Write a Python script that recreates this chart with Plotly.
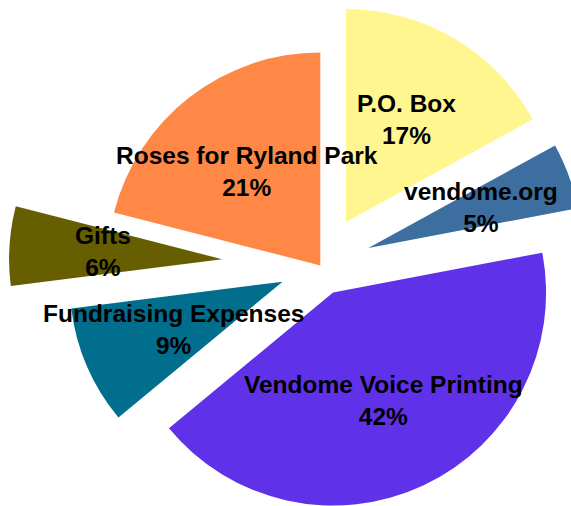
import numpy as np
import plotly.graph_objects as go

# ---- data ----
labels = ["P.O. Box", "vendome.org", "Vendome Voice Printing",
          "Fundraising Expenses", "Gifts", "Roses for Ryland Park"]
values = [17, 5, 42, 9, 6, 21]
colors = ["#FFF68F", "#3C6EA0", "#5F32EA", "#006E8C", "#665E00", "#FF8847"]
pulls = [0.237, 0.24, 0.141, 0.193, 0.462, 0.0]

# ---- layout constants (pixels) ----
W, H = 571, 506
R = 213.0               # pie radius
CX, CY = 320.3, 265.4   # pie centre in figure pixels
LABEL_R = 0.56          # label distance as fraction of radius
PAD = 40                # extra room for the slice that runs off the right edge

vals = np.array(values, dtype=float)
total = vals.sum()
cum = np.cumsum(vals)
mid = np.deg2rad((cum - vals / 2) / total * 360.0)  # clockwise from 12 o'clock
dx, dy = np.sin(mid), -np.cos(mid)                  # screen directions

FW = W + PAD            # figure width (right part runs past the window)

fig = go.Figure()
annotations = []
for i, lab in enumerate(labels):
    ax = CX + pulls[i] * R * dx[i]
    ay = CY + pulls[i] * R * dy[i]
    half = min(R, ax, FW - ax, ay, H - ay)
    dom_x = [max(0, (ax - half) / FW), min(1, (ax + half) / FW)]
    dom_y = [max(0, 1 - (ay + half) / H), min(1, 1 - (ay - half) / H)]
    cols = [colors[j] if j == i else "rgba(0,0,0,0)" for j in range(len(labels))]
    fig.add_trace(go.Pie(
        labels=labels, values=values, sort=False, direction="clockwise",
        rotation=0, textinfo="none", hoverinfo="label+percent",
        marker=dict(colors=cols, line=dict(width=0)),
        domain=dict(x=dom_x, y=dom_y), showlegend=False,
    ))
    lx = ax + LABEL_R * R * dx[i]
    ly = ay + LABEL_R * R * dy[i]
    pct = round(values[i] / total * 100)
    annotations.append(dict(
        x=lx / FW, y=1 - ly / H, xref="paper", yref="paper",
        text=f"{lab}<br>{pct}%", showarrow=False,
        xanchor="center", yanchor="middle",
        font=dict(family="Liberation Sans, Arial, Helvetica, sans-serif",
                  size=24.5, color="black", weight="bold"),
    ))

fig.update_layout(
    width=FW, height=H, margin=dict(l=0, r=0, t=0, b=0),
    paper_bgcolor="white", plot_bgcolor="white",
    annotations=annotations,
)
fig.write_html(
    "out.html",
    config={"displayModeBar": False},
    post_script="document.body.style.margin='0';"
                "document.body.style.overflow='hidden';",
)
